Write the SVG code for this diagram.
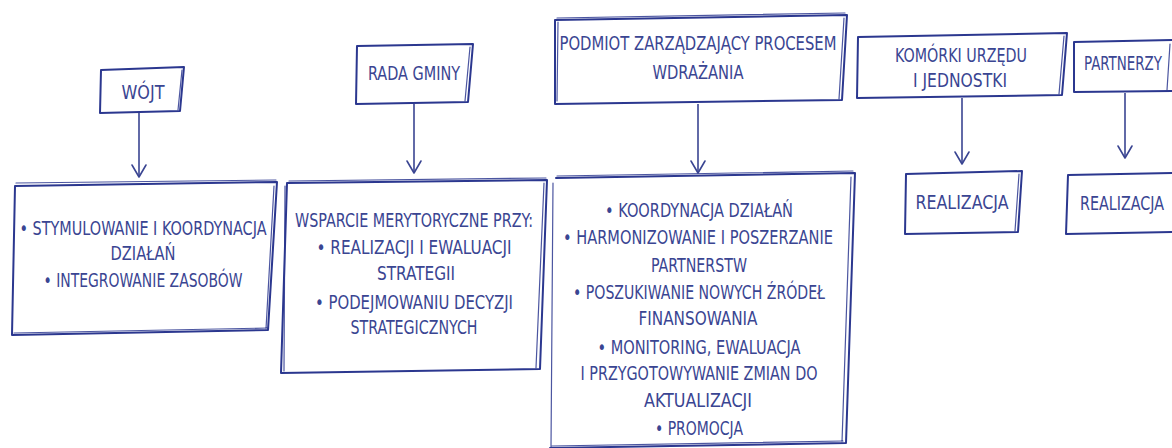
<svg xmlns="http://www.w3.org/2000/svg" width="1172" height="448" viewBox="0 0 1172 448">
<style>
.box{fill:none;stroke:#2b378f;stroke-width:2;stroke-linejoin:round;stroke-linecap:round}
.sk{fill:none;stroke:#2b378f;stroke-width:1.2;stroke-linecap:round;opacity:0.85}
.conn{fill:none;stroke:#3a4592;stroke-width:1.6}
text{font-family:"DejaVu Sans Condensed","Liberation Sans",sans-serif;font-size:19px;fill:#3a4592;text-anchor:middle}
</style>
<defs>
<marker id="v" markerUnits="userSpaceOnUse" markerWidth="20" markerHeight="20" refX="0" refY="0" viewBox="-10 -15 20 20" orient="auto-start-reverse" overflow="visible">
<path d="M-12,-7 L0,0 L-12,7" fill="none" stroke="#3a4592" stroke-width="1.6" stroke-linejoin="round" stroke-linecap="round"/>
</marker>
</defs>
<rect width="1172" height="448" fill="#ffffff"/>
<g id="connectors">
<line class="conn" x1="139" y1="113" x2="139" y2="177" marker-end="url(#v)"/>
<line class="conn" x1="414" y1="104" x2="414" y2="173" marker-end="url(#v)"/>
<line class="conn" x1="698" y1="104" x2="698" y2="173" marker-end="url(#v)"/>
<line class="conn" x1="962" y1="98" x2="962" y2="164" marker-end="url(#v)"/>
<line class="conn" x1="1125" y1="93" x2="1125" y2="158" marker-end="url(#v)"/>
</g>
<g id="wojt">
<path class="box" d="M101,70 L184,67 L180,111 L100,113 Z"/>
<path class="sk" d="M182,70 L178,110"/>
<text x="143" y="99" textLength="43" lengthAdjust="spacingAndGlyphs">WÓJT</text>
</g>
<g id="wojt-zadania">
<path class="box" d="M15,186 L277,182 L268,330 L12,335 Z"/>
<path class="sk" d="M16,183 L276,180 M274,186 L266,329 M14,333 L268,328"/>
<text x="143" y="235" textLength="247" lengthAdjust="spacingAndGlyphs">• STYMULOWANIE I KOORDYNACJA</text>
<text x="143" y="260" textLength="65" lengthAdjust="spacingAndGlyphs">DZIAŁAŃ</text>
<text x="143" y="287" textLength="199" lengthAdjust="spacingAndGlyphs">• INTEGROWANIE ZASOBÓW</text>
</g>
<g id="rada">
<path class="box" d="M357,46 L473,44 L468,102 L356,104 Z"/>
<path class="sk" d="M470,47 L465,101"/>
<text x="414" y="80" textLength="92" lengthAdjust="spacingAndGlyphs">RADA GMINY</text>
</g>
<g id="rada-zadania">
<path class="box" d="M287,183 L547,180 L540,369 L281,373 Z"/>
<path class="sk" d="M289,181 L546,178 M544,183 L536,368 M285,186 L284,371"/>
<text x="414" y="227" textLength="238" lengthAdjust="spacingAndGlyphs">WSPARCIE MERYTORYCZNE PRZY:</text>
<text x="414" y="254" textLength="195" lengthAdjust="spacingAndGlyphs">• REALIZACJI I EWALUACJI</text>
<text x="416" y="280" textLength="78" lengthAdjust="spacingAndGlyphs">STRATEGII</text>
<text x="414" y="309" textLength="198" lengthAdjust="spacingAndGlyphs">• PODEJMOWANIU DECYZJI</text>
<text x="414" y="334" textLength="127" lengthAdjust="spacingAndGlyphs">STRATEGICZNYCH</text>
</g>
<g id="podmiot">
<path class="box" d="M555,20 L847,15 L842,100 L555,104 Z"/>
<path class="sk" d="M557,18 L845,13 M844,18 L839,99 M558,22 L557,101"/>
<text x="698" y="50" textLength="277" lengthAdjust="spacingAndGlyphs">PODMIOT ZARZĄDZAJĄCY PROCESEM</text>
<text x="698" y="79" textLength="91" lengthAdjust="spacingAndGlyphs">WDRAŻANIA</text>
</g>
<g id="podmiot-zadania">
<path class="box" d="M556,178 L855,173 L846,443 L550,448"/>
<path class="sk" d="M557,176 L853,171 M851,177 L842,442 M553,183 L551,448 M552,446 L843,441"/>
<text x="699" y="217" textLength="188" lengthAdjust="spacingAndGlyphs">• KOORDYNACJA DZIAŁAŃ</text>
<text x="698" y="244" textLength="270" lengthAdjust="spacingAndGlyphs">• HARMONIZOWANIE I POSZERZANIE</text>
<text x="699" y="272" textLength="96" lengthAdjust="spacingAndGlyphs">PARTNERSTW</text>
<text x="699" y="299" textLength="252" lengthAdjust="spacingAndGlyphs">• POSZUKIWANIE NOWYCH ŹRÓDEŁ</text>
<text x="698" y="325" textLength="119" lengthAdjust="spacingAndGlyphs">FINANSOWANIA</text>
<text x="699" y="354" textLength="203" lengthAdjust="spacingAndGlyphs">• MONITORING, EWALUACJA</text>
<text x="699" y="380" textLength="237" lengthAdjust="spacingAndGlyphs">I PRZYGOTOWYWANIE ZMIAN DO</text>
<text x="698" y="407" textLength="108" lengthAdjust="spacingAndGlyphs">AKTUALIZACJI</text>
<text x="699" y="435" textLength="88" lengthAdjust="spacingAndGlyphs">• PROMOCJA</text>
</g>
<g id="komorki">
<path class="box" d="M858,37 L1067,33 L1062,95 L857,98 Z"/>
<path class="sk" d="M1064,36 L1059,94"/>
<text x="961" y="62" textLength="132" lengthAdjust="spacingAndGlyphs">KOMÓRKI URZĘDU</text>
<text x="960" y="87" textLength="94" lengthAdjust="spacingAndGlyphs">I JEDNOSTKI</text>
</g>
<g id="komorki-realizacja">
<path class="box" d="M906,174 L1022,171 L1018,232 L905,234 Z"/>
<path class="sk" d="M1019,174 L1015,231"/>
<text x="962" y="209" textLength="93" lengthAdjust="spacingAndGlyphs">REALIZACJA</text>
</g>
<g id="partnerzy">
<path class="box" d="M1174,40 L1074,42 L1074,92 L1174,91"/>
<path class="sk" d="M1170,44 L1167,90"/>
<text x="1123" y="70" textLength="78" lengthAdjust="spacingAndGlyphs">PARTNERZY</text>
</g>
<g id="partnerzy-realizacja">
<path class="box" d="M1174,173 L1068,175 L1066,234 L1174,232"/>
<text x="1122" y="210" textLength="84" lengthAdjust="spacingAndGlyphs">REALIZACJA</text>
</g>
</svg>
